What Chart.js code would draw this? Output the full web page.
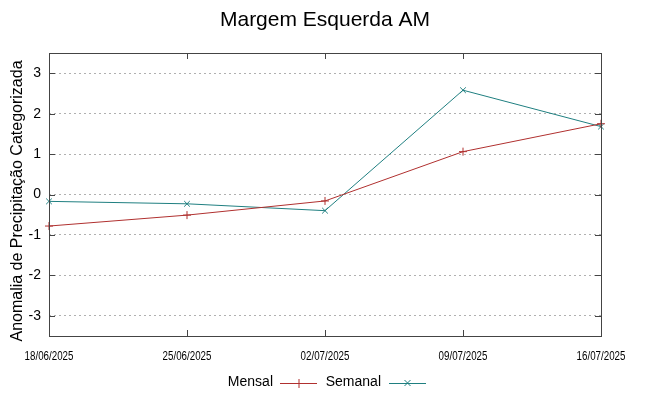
<!DOCTYPE html>
<html lang="pt">
<head>
    <meta charset="UTF-8">
    <title>Margem Esquerda AM</title>
    <script src="https://cdn.jsdelivr.net/npm/chart.js"></script>
    <style>
        html, body { margin: 0; padding: 0; background: #fff; }
        #wrap { width: 649px; height: 396px; }
    </style>
</head>
<body>
    <div id="wrap"><canvas id="chart" width="649" height="396"></canvas></div>

    <script>
        // dados
        const datas = ['18/06/2025', '25/06/2025', '02/07/2025', '09/07/2025', '16/07/2025'];
        const mensal = [-0.78, -0.51, -0.16, 1.06, 1.75];
        const semanal = [-0.17, -0.23, -0.40, 2.58, 1.68];
        const yTicks = [-3, -2, -1, 0, 1, 2, 3];

        const corMensal = '#b0302f';
        const corSemanal = '#1f7f80';

        // moldura, marcas internas, titulos e legenda no estilo gnuplot
        const gnuplotStyle = {
            id: 'gnuplotStyle',
            afterDraw(chart) {
                const c = chart.ctx;
                const a = chart.chartArea;
                const y = chart.scales.y;
                const x = chart.scales.x;
                c.save();
                c.strokeStyle = '#444';
                c.lineWidth = 1;
                c.beginPath();
                yTicks.forEach(v => {
                    const py = Math.round(y.getPixelForValue(v)) + 0.5;
                    c.moveTo(a.left, py); c.lineTo(a.left + 6, py);
                    c.moveTo(a.right, py); c.lineTo(a.right - 6, py);
                });
                datas.forEach((d, i) => {
                    const px = Math.round(x.getPixelForValue(i)) + 0.5;
                    c.moveTo(px, a.bottom); c.lineTo(px, a.bottom - 6);
                    c.moveTo(px, a.top); c.lineTo(px, a.top + 6);
                });
                c.stroke();
                c.strokeRect(Math.round(a.left) + 0.5, Math.round(a.top) + 0.5,
                    Math.round(a.right - a.left), Math.round(a.bottom - a.top));

                // rotulos do eixo x (fonte estreita)
                c.fillStyle = '#000';
                c.textAlign = 'center';
                c.textBaseline = 'middle';
                c.font = '13px "Liberation Sans", Arial, sans-serif';
                datas.forEach((d, i) => {
                    const px = x.getPixelForValue(i);
                    c.save();
                    c.translate(px, 356);
                    c.scale(0.75, 1);
                    c.fillText(d, 0, 0);
                    c.restore();
                });

                // titulo
                c.font = '21px "Liberation Sans", Arial, sans-serif';
                c.fillText('Margem Esquerda AM', 325, 20);

                // titulo do eixo y
                c.save();
                c.translate(18, 201);
                c.rotate(-Math.PI / 2);
                c.font = '16px "Liberation Sans", Arial, sans-serif';
                c.fillText('Anomalia de Precipitação Categorizada', 0, 0);
                c.restore();

                // legenda
                c.font = '14px "Liberation Sans", Arial, sans-serif';
                c.textAlign = 'right';
                const ly = 383;
                const itens = [
                    { txt: 'Mensal', cor: corMensal, fim: 273, x0: 280, x1: 317, m: '+' },
                    { txt: 'Semanal', cor: corSemanal, fim: 381, x0: 389, x1: 426, m: 'x' }
                ];
                itens.forEach(it => {
                    c.fillStyle = '#000';
                    c.fillText(it.txt, it.fim, ly - 1);
                    c.strokeStyle = it.cor;
                    c.beginPath();
                    c.moveTo(it.x0, ly + 0.5); c.lineTo(it.x1, ly + 0.5);
                    const mx = (it.x0 + it.x1) / 2;
                    if (it.m === '+') {
                        c.moveTo(mx + 0.5, ly - 4); c.lineTo(mx + 0.5, ly + 5);
                    } else {
                        c.moveTo(mx - 3, ly - 3); c.lineTo(mx + 3, ly + 3);
                        c.moveTo(mx + 3, ly - 3); c.lineTo(mx - 3, ly + 3);
                    }
                    c.stroke();
                });
                c.restore();
            }
        };

        new Chart(document.getElementById('chart'), {
            type: 'line',
            data: {
                labels: datas,
                datasets: [
                    {
                        label: 'Mensal',
                        data: mensal,
                        borderColor: corMensal,
                        backgroundColor: corMensal,
                        borderWidth: 1,
                        pointStyle: 'cross',
                        pointRadius: 4,
                        pointBorderWidth: 1,
                        tension: 0
                    },
                    {
                        label: 'Semanal',
                        data: semanal,
                        borderColor: corSemanal,
                        backgroundColor: corSemanal,
                        borderWidth: 1,
                        pointStyle: 'crossRot',
                        pointRadius: 4,
                        pointBorderWidth: 1,
                        tension: 0
                    }
                ]
            },
            options: {
                responsive: false,
                animation: false,
                layout: { padding: { top: 53, right: 48, bottom: 0, left: 0 } },
                plugins: {
                    legend: { display: false },
                    title: { display: false },
                    tooltip: { enabled: false }
                },
                scales: {
                    x: {
                        type: 'category',
                        offset: false,
                        grid: { display: false, drawTicks: false },
                        border: { display: false },
                        afterFit(s) { s.height = 60; },
                        ticks: { display: false }
                    },
                    y: {
                        min: -3.5,
                        max: 3.5,
                        afterFit(s) { s.width = 49; },
                        afterBuildTicks(s) { s.ticks = yTicks.map(v => ({ value: v })); },
                        grid: {
                            drawTicks: false,
                            color: '#b0b0b0',
                            lineWidth: 1
                        },
                        border: { display: false, dash: [2, 3] },
                        ticks: {
                            padding: 8,
                            color: '#000',
                            font: { family: '"Liberation Sans", Arial, sans-serif', size: 14 }
                        }
                    }
                }
            },
            plugins: [gnuplotStyle]
        });
    </script>
</body>
</html>
